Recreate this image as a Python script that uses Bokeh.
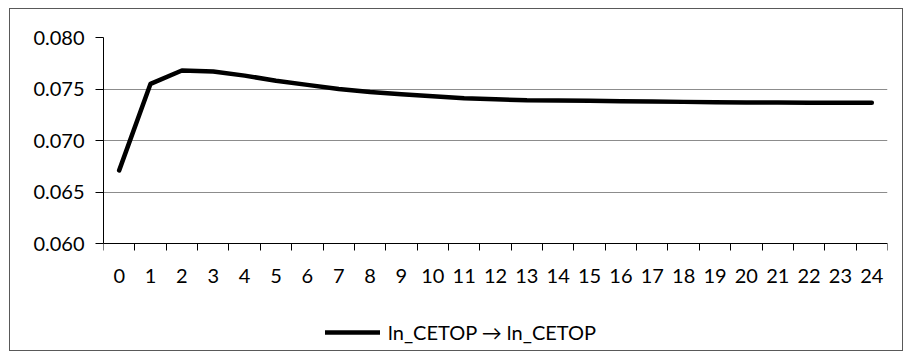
from bokeh.plotting import figure
from bokeh.models import FixedTicker, Range1d, Legend, LegendItem
from bokeh.embed import file_html
from bokeh.resources import INLINE

periods = list(range(25))
values = [0.0671, 0.0755, 0.0768, 0.0767, 0.0763, 0.0758, 0.0754, 0.0750,
          0.0747, 0.0745, 0.0743, 0.0741, 0.0740, 0.0739, 0.07388, 0.07385,
          0.0738, 0.07378, 0.07375, 0.07372, 0.0737, 0.07368, 0.07367,
          0.07366, 0.07366]
y_ticks = [0.060, 0.065, 0.070, 0.075, 0.080]
y_labels = ["0.060", "0.065", "0.070", "0.075", "0.080"]
series_name = "ln_CETOP \u2192 ln_CETOP"

FONT = "Lato"
FS = "20px"

# layout (pixels)
W, H = 894, 343
LEFT, TOP, RIGHT, BOTTOM = 93, 28, 17, 5
PLOT_H = 206                      # pixels between 0.060 and 0.080
frame_h = H - TOP - BOTTOM
y_max = 0.080
y_axis_min = 0.060
y_start = y_max - frame_h / PLOT_H * (y_max - y_axis_min)

p = figure(width=W, height=H, output_backend="svg", toolbar_location=None,
           x_range=Range1d(-0.5, 24.5), y_range=Range1d(y_start, y_max),
           min_border_left=LEFT, min_border_right=RIGHT, min_border_top=TOP,
           min_border_bottom=BOTTOM)
p.styles = {"border": "1px solid #595959", "margin-left": "9px",
            "margin-top": "8px"}
p.outline_line_color = None
p.background_fill_color = "white"

# x axis
xa = p.xaxis[0]
xa.fixed_location = y_axis_min
xa.ticker = FixedTicker(ticks=periods, minor_ticks=[i - 0.5 for i in range(26)])
xa.major_tick_line_color = None
xa.major_tick_out = 0
xa.major_tick_in = 0
xa.minor_tick_line_color = "black"
xa.minor_tick_out = 7
xa.minor_tick_in = 0
xa.axis_line_color = "black"
xa.major_label_text_font = FONT
xa.major_label_text_font_size = FS
xa.major_label_text_color = "black"
xa.major_label_standoff = 18
p.xgrid.grid_line_color = None

# y axis
ya = p.yaxis[0]
ya.bounds = (y_axis_min, y_max)
ya.ticker = FixedTicker(ticks=y_ticks)
ya.major_label_overrides = {t: l for t, l in zip(y_ticks, y_labels)}
ya.major_tick_line_color = "black"
ya.major_tick_out = 8
ya.major_tick_in = 0
ya.minor_tick_line_color = None
ya.axis_line_color = "black"
ya.major_label_text_font = FONT
ya.major_label_text_font_size = FS
ya.major_label_text_color = "black"
ya.major_label_standoff = 11
p.ygrid.ticker = FixedTicker(ticks=y_ticks)
p.ygrid.grid_line_color = "#8c8c8c"

r = p.line(periods, values, line_color="black", line_width=4.5,
           line_join="round", line_cap="round")

legend = Legend(items=[LegendItem(label=series_name, renderers=[r])],
                location=(222, 3), orientation="horizontal",
                glyph_width=55, glyph_height=20, label_height=20,
                label_standoff=8, padding=0, margin=0,
                border_line_color=None, background_fill_alpha=0,
                label_text_font=FONT, label_text_font_size=FS,
                label_text_color="black")
p.add_layout(legend, "center")

open("out.html", "w").write(file_html(p, INLINE))
